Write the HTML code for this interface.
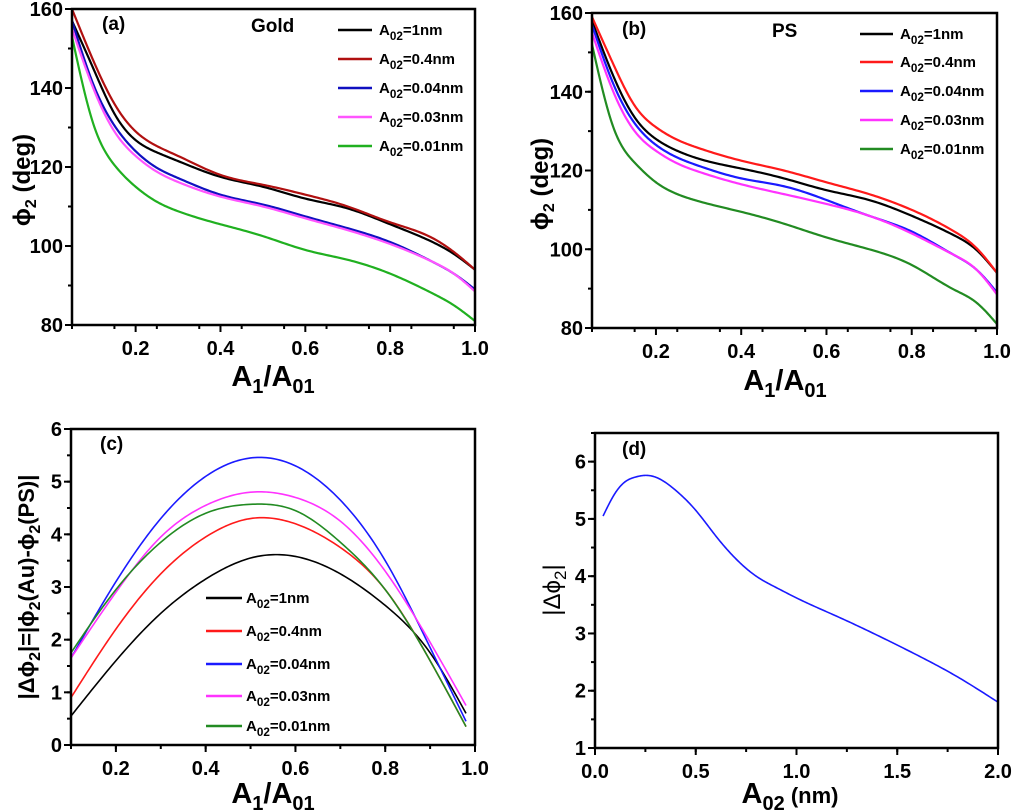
<!DOCTYPE html>
<html><head><meta charset="utf-8"><style>
html,body{margin:0;padding:0;background:#fff}
svg{display:block;font-family:"Liberation Sans",Arial,sans-serif}
</style></head><body>
<svg id="fig" width="1013" height="811" viewBox="0 0 1013 811"></svg>
<script>
// ---------- data ----------
const xA = [0.05,0.1,0.15,0.2,0.25,0.3,0.4,0.5,0.6,0.7,0.8,0.9,0.95,1.0];
const aBlack = [157,145,133.5,126.8,123.7,121.5,117.5,115,112,109.5,105.5,101,98,94];
const aRed   = [160,147,136,129,125.3,122.8,118,115.5,113,110,106,102,98.5,94];
const aBlue  = [157,141,130.5,124,119.8,117.2,113,110.5,107.5,104.5,101,96,93,89];
const aPink  = [155,140,129,122.8,118.8,116.2,112.5,110,107,104,100.5,96,93,88.5];
const aGreen = [153,131,120.5,115,111.2,108.8,105.5,102.5,99,96.5,93,88,85,81];
const bBlack = [158,144,133.5,128,125,123,120.5,118,115,112.5,108.5,103.5,100,94];
const bRed   = [159,147,136.5,131,127.8,125.7,122.5,120,117,114,110,104.5,100.5,94];
const bBlue  = [157,142,132,126.5,123.3,121.2,118,116,112.5,108.5,104.5,98.5,95,89];
const bPink  = [155,140,130,125,121.8,119.7,116.5,114,111.5,108.5,104,98.5,95,88.5];
const bGreen = [152,131,122,117,114,112.2,109.5,106.5,103,100,96,89.7,86.6,81];
const xC = [0.1,0.2,0.3,0.4,0.5,0.6,0.7,0.8,0.9,0.98];
const cBlack = [0.55,1.6,2.5,3.15,3.55,3.58,3.25,2.65,1.75,0.6];
const cRed   = [0.9,2.2,3.25,3.95,4.3,4.2,3.75,2.95,1.6,0.35];
const cBlue  = [1.65,3.1,4.3,5.1,5.45,5.3,4.65,3.5,1.85,0.45];
const cPink  = [1.65,2.9,3.95,4.55,4.8,4.7,4.25,3.3,1.95,0.75];
const cGreen = [1.75,2.95,3.85,4.4,4.57,4.45,3.85,2.95,1.6,0.35];
const xD = [0.04,0.1,0.15,0.2,0.25,0.3,0.4,0.5,0.6,0.7,0.8,0.9,1.0,1.2,1.4,1.6,1.8,2.0];
const dVals = [5.05,5.45,5.65,5.73,5.76,5.73,5.5,5.15,4.7,4.3,4.0,3.8,3.62,3.3,2.97,2.62,2.24,1.8];
const legendLabels = ["1nm","0.4nm","0.04nm","0.03nm","0.01nm"];
const xTicksA = [0.2,0.4,0.6,0.8,1.0];
const yTicksA = [80,100,120,140,160];
const yTicksC = [0,1,2,3,4,5,6];
const xTicksD = [0,0.5,1.0,1.5,2.0];
const yTicksD = [1,2,3,4,5,6];

const NS="http://www.w3.org/2000/svg";
const svg=document.getElementById('fig');
function el(tag,attrs,parent){const e=document.createElementNS(NS,tag);for(const k in attrs)e.setAttribute(k,attrs[k]);(parent||svg).appendChild(e);return e;}
// natural cubic spline in data space, sampled densely
function spline(xs,ys){const n=xs.length,h=[],M=new Array(n).fill(0);
  for(let i=0;i<n-1;i++)h[i]=xs[i+1]-xs[i];
  const cp=[],dp=[];cp[0]=0;dp[0]=0;
  for(let i=1;i<n-1;i++){const A=h[i-1],B=2*(h[i-1]+h[i]),C=h[i],R=6*((ys[i+1]-ys[i])/h[i]-(ys[i]-ys[i-1])/h[i-1]);
    const den=B-A*cp[i-1];cp[i]=C/den;dp[i]=(R-A*dp[i-1])/den;}
  for(let i=n-2;i>=1;i--)M[i]=dp[i]-cp[i]*M[i+1];
  const out=[];
  for(let i=0;i<n-1;i++){const steps=20;for(let k=(i?1:0);k<=steps;k++){const t=xs[i]+h[i]*k/steps;const u=xs[i+1]-t,v=t-xs[i];
    const y=M[i]*u*u*u/(6*h[i])+M[i+1]*v*v*v/(6*h[i])+(ys[i]/h[i]-M[i]*h[i]/6)*u+(ys[i+1]/h[i]-M[i+1]*h[i]/6)*v;out.push([t,y]);}}
  return out;}

function panel(o){
  const g=el('g',{});
  
  
  const sx=v=>o.L+(v-o.x0)/(o.x1-o.x0)*(o.R-o.L);
  const sy=v=>o.B-(v-o.y0)/(o.y1-o.y0)*(o.B-o.T);
  for(let v=o.x0;v<=o.x1+1e-9;v+=o.xm){const X=sx(v);el('line',{x1:X,x2:X,y1:o.B,y2:o.B+4,stroke:'#000','stroke-width':2},g);}
  for(let v=o.y0;v<=o.y1+1e-9;v+=o.ym){const Y=sy(v);el('line',{x1:o.L,x2:o.L-4,y1:Y,y2:Y,stroke:'#000','stroke-width':2},g);}
  o.xt.forEach(v=>{const X=sx(v);el('line',{x1:X,x2:X,y1:o.B,y2:o.B+7,stroke:'#000','stroke-width':2},g);
    const t=el('text',{x:X,y:o.B+30,'text-anchor':'middle','font-size':20,'font-weight':'bold'},g);t.textContent=o.xf(v);
    });
  o.yt.forEach(v=>{const Y=sy(v);el('line',{x1:o.L,x2:o.L-7,y1:Y,y2:Y,stroke:'#000','stroke-width':2},g);
    const t=el('text',{x:o.L-9,y:Y+7,'text-anchor':'end','font-size':20,'font-weight':'bold'},g);t.textContent=v;
    });
  o.series.forEach(s=>{const pts=spline(s.x,s.y).map(([x,y])=>[sx(x).toFixed(2),sy(y).toFixed(2)]);
    const p=el('path',{d:'M'+pts.map(q=>q.join(',')).join(' L'),fill:'none',stroke:s.c,'stroke-width':s.w||2,'stroke-linejoin':'round'},g);
    });
  const f=el('rect',{x:o.L,y:o.T,width:o.R-o.L,height:o.B-o.T,fill:'none',stroke:'#000','stroke-width':2.5},g);
  
  return g;
}
function txt(x,y,s,size,attrs,name){const t=el('text',Object.assign({x:x,y:y,'font-size':size,'font-weight':'bold'},attrs||{}));t.innerHTML=s;
  return t;}
const cols=['#000','#b01010','#1010c0','#ff55ff','#20b020'];
const colsB=['#000','#ff1a1a','#1a1aff','#ff33ff','#228b22'];
const names=['1nm','0p4nm','0p04nm','0p03nm','0p01nm'];
function legend(x,ys,len,tx,c,size){ys.forEach((y,i)=>{
  const l=el('line',{x1:x,x2:x+len,y1:y,y2:y,stroke:c[i],'stroke-width':2.5});
  
  txt(tx,y+5,`A<tspan font-size="${size*0.78}" dy="5">02</tspan><tspan dy="-5">=${legendLabels[i]}</tspan>`,size,{},'legend-entry-'+names[i]);});}
const xt='A<tspan font-size="20" dy="7">1</tspan><tspan dy="-7">/A</tspan><tspan font-size="20" dy="7">01</tspan>';
const yt='ϕ<tspan font-size="16" dy="6">2</tspan><tspan dy="-6"> (deg)</tspan>';

// (a)
panel({name:'panel-a',L:72,R:475,T:9,B:325,x0:0.05,x1:1.0,y0:80,y1:160,xm:0.1,ym:10,xt:xTicksA,yt:yTicksA,xf:v=>v.toFixed(1),
  series:[[aBlack,0],[aRed,1],[aBlue,2],[aPink,3],[aGreen,4]].map(([y,i])=>({x:xA,y:y,c:cols[i],n:'gold-curve-'+names[i],w:2.2}))});
txt(102,30,'(a)',19,{},'panel-a-label');txt(251,32,'Gold',19,{},'gold-title');
legend(338,[30,59,88,117,146],34,379,cols,15);
txt(273,386,xt,29,{'text-anchor':'middle'},'x-axis-title-a');
txt(30,180,yt,24,{'text-anchor':'middle',transform:'rotate(-90 30 180)'},'y-axis-title-a');

// (b)
panel({name:'panel-b',L:592,R:997,T:13,B:328,x0:0.05,x1:1.0,y0:80,y1:160,xm:0.1,ym:10,xt:xTicksA,yt:yTicksA,xf:v=>v.toFixed(1),
  series:[[bBlack,0],[bRed,1],[bBlue,2],[bPink,3],[bGreen,4]].map(([y,i])=>({x:xA,y:y,c:colsB[i],n:'ps-curve-'+names[i],w:2.2}))});
txt(622,35,'(b)',19,{},'panel-b-label');txt(772,37,'PS',19,{},'ps-title');
legend(860,[34,62,91,120,149],33,900,colsB,15);
txt(785,390,xt,29,{'text-anchor':'middle'},'x-axis-title-b');
txt(548,184,yt,24,{'text-anchor':'middle',transform:'rotate(-90 548 184)'},'y-axis-title-b');

// (c)
panel({name:'panel-c',L:71,R:475,T:429,B:745,x0:0.1,x1:1.0,y0:0,y1:6,xm:0.1,ym:0.5,xt:xTicksA,yt:yTicksC,xf:v=>v.toFixed(1),
  series:[[cBlack,0],[cRed,1],[cBlue,2],[cPink,3],[cGreen,4]].map(([y,i])=>({x:xC,y:y,c:colsB[i],n:'diff-curve-'+names[i],w:1.6}))});
txt(100,450,'(c)',19,{},'panel-c-label');
legend(206,[598,631,664,696,726],36,246,colsB,15);
txt(273,803,xt,29,{'text-anchor':'middle'},'x-axis-title-c');
txt(34,587,'|Δϕ<tspan font-size="16" dy="6">2</tspan><tspan dy="-6">|=|ϕ</tspan><tspan font-size="16" dy="6">2</tspan><tspan dy="-6">(Au)-ϕ</tspan><tspan font-size="16" dy="6">2</tspan><tspan dy="-6">(PS)|</tspan>',22,{'text-anchor':'middle',transform:'rotate(-90 34 587)'},'y-axis-title-c');

// (d)
panel({name:'panel-d',L:595,R:998,T:433,B:748,x0:0,x1:2.0,y0:1,y1:6.5,xm:0.25,ym:0.5,xt:xTicksD,yt:yTicksD,xf:v=>v.toFixed(1),
  series:[{x:xD,y:dVals,c:'#1a1aff',n:'delta-phi-curve',w:1.6}]});
txt(622,455,'(d)',19,{},'panel-d-label');
txt(790,803,'A<tspan font-size="20" dy="7">02</tspan><tspan dy="-7" font-size="22"> (nm)</tspan>',29,{'text-anchor':'middle'},'x-axis-title-d');
txt(560,590,'|Δϕ<tspan font-size="17" dy="6">2</tspan><tspan dy="-6">|</tspan>',24,{'text-anchor':'middle','font-weight':'normal',transform:'rotate(-90 560 590)'},'y-axis-title-d');
</script>
</body></html>
